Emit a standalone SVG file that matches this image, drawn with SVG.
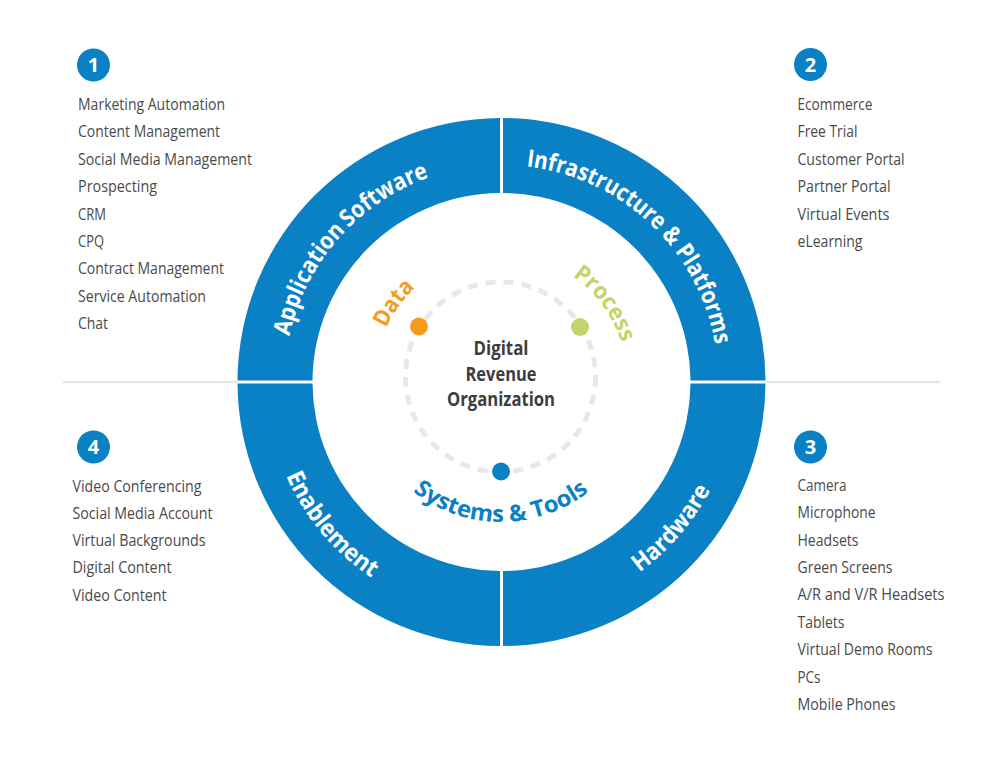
<svg xmlns="http://www.w3.org/2000/svg" width="1000" height="764" viewBox="0 0 1000 764">
<style>
.item{font-family:"Open Sans","Noto Sans",sans-serif;font-size:15.5px;fill:#4a4a4a}
.num{font-family:"Open Sans",sans-serif;font-size:20px;font-weight:700;fill:#fff;text-anchor:middle}
.badge{fill:#0a80c5}
.seg{fill:#0a80c5}
.ring{font-family:"Open Sans",sans-serif;font-size:24px;font-weight:700;fill:#fff;text-anchor:middle}
.ringS{font-family:"Open Sans",sans-serif;font-size:24px;font-weight:700;fill:#fff}
.inner{font-family:"Open Sans",sans-serif;font-size:23px;font-weight:700;text-anchor:middle}
.center{font-family:"Open Sans",sans-serif;font-size:19px;font-weight:700;fill:#3d3d3d;text-anchor:middle}
</style>
<defs>
<path id="ringTop" d="M 284.5,382 A 217 217 0 0 1 718.5,382"/>
<path id="ringBot" d="M 266.5,382 A 235 235 0 0 0 736.5,382"/>
<path id="innerTop" d="M 375,380 A 126 126 0 0 1 627,380"/>
<path id="innerBot" d="M 359,380 A 142 142 0 0 0 643,380"/>
</defs>
<rect width="1000" height="764" fill="#fff"/>
<g id="axis">
<line x1="63" y1="382" x2="238" y2="382" stroke="#e6e6e6" stroke-width="2.5"/>
<line x1="765" y1="382" x2="940" y2="382" stroke="#e6e6e6" stroke-width="2.5"/>
</g>
<g id="connectors">
<circle cx="500.5" cy="377" r="95" fill="none" stroke="#e8e8e8" stroke-width="5" stroke-dasharray="10 8"/>
</g>
<g id="q1-application-software">
<path class="seg" d="M 237.5,380.5 A 264 264 0 0 1 500,118 L 500,193 A 189 189 0 0 0 312.5,380.5 Z"/>
<text class="ringS"><textPath href="#ringTop" startOffset="46" textLength="121" lengthAdjust="spacingAndGlyphs">Application</textPath></text>
<text class="ringS"><textPath href="#ringTop" startOffset="171" textLength="96" lengthAdjust="spacingAndGlyphs">Software</textPath></text>
</g>
<g id="q2-infrastructure">
<path class="seg" d="M 503,118 A 264 264 0 0 1 765.5,380.5 L 690.5,380.5 A 189 189 0 0 0 503,193 Z"/>
<text class="ringS"><textPath href="#ringTop" startOffset="365.5" textLength="170" lengthAdjust="spacingAndGlyphs">Infrastructure &amp;</textPath></text>
<text class="ringS"><textPath href="#ringTop" startOffset="541" textLength="103" lengthAdjust="spacingAndGlyphs">Platforms</textPath></text>
</g>
<g id="q3-hardware">
<path class="seg" d="M 765.5,383.5 A 264 264 0 0 1 503,646 L 503,571 A 189 189 0 0 0 690.5,383.5 Z"/>
<text class="ring"><textPath href="#ringBot" startOffset="77.4%" textLength="110" lengthAdjust="spacingAndGlyphs">Hardware</textPath></text>
</g>
<g id="q4-enablement">
<path class="seg" d="M 500,646 A 264 264 0 0 1 237.5,383.5 L 312.5,383.5 A 189 189 0 0 0 500,571 Z"/>
<text class="ring"><textPath href="#ringBot" startOffset="22.2%" textLength="135" lengthAdjust="spacingAndGlyphs">Enablement</textPath></text>
</g>
<g id="center">
<text class="center" x="501" y="355" textLength="55" lengthAdjust="spacingAndGlyphs">Digital</text>
<text class="center" x="501" y="380.5" textLength="71" lengthAdjust="spacingAndGlyphs">Revenue</text>
<text class="center" x="501" y="406" textLength="108" lengthAdjust="spacingAndGlyphs">Organization</text>
</g>
<g id="data">
<circle cx="419" cy="326.5" r="9" fill="#f39c1f"/>
<text class="inner" fill="#f39c1f"><textPath href="#innerTop" startOffset="19.8%" textLength="50" lengthAdjust="spacingAndGlyphs">Data</textPath></text>
</g>
<g id="process">
<circle cx="580" cy="327" r="9" fill="#c5d46a"/>
<text class="inner" fill="#c5d46a"><textPath href="#innerTop" startOffset="79.8%" textLength="84" lengthAdjust="spacingAndGlyphs">Process</textPath></text>
</g>
<g id="systems-tools">
<circle cx="501" cy="471.5" r="9" fill="#0a80c5"/>
<text class="inner" fill="#0a80c5"><textPath href="#innerBot" startOffset="50%" textLength="190" lengthAdjust="spacingAndGlyphs">Systems &amp; Tools</textPath></text>
</g>
<g id="list1">
<circle class="badge" cx="93.5" cy="65" r="16.5"/>
<text class="num" x="93.5" y="72">1</text>
<text class="item" x="78" y="110" textLength="147" lengthAdjust="spacingAndGlyphs">Marketing Automation</text>
<text class="item" x="78" y="137.4" textLength="142" lengthAdjust="spacingAndGlyphs">Content Management</text>
<text class="item" x="78" y="164.8" textLength="174" lengthAdjust="spacingAndGlyphs">Social Media Management</text>
<text class="item" x="78" y="192.2" textLength="79" lengthAdjust="spacingAndGlyphs">Prospecting</text>
<text class="item" x="78" y="219.6" textLength="28" lengthAdjust="spacingAndGlyphs">CRM</text>
<text class="item" x="78" y="247" textLength="26" lengthAdjust="spacingAndGlyphs">CPQ</text>
<text class="item" x="78" y="274.4" textLength="146" lengthAdjust="spacingAndGlyphs">Contract Management</text>
<text class="item" x="78" y="301.8" textLength="128" lengthAdjust="spacingAndGlyphs">Service Automation</text>
<text class="item" x="78" y="329.2" textLength="30" lengthAdjust="spacingAndGlyphs">Chat</text>
</g>
<g id="list2">
<circle class="badge" cx="810.5" cy="64.5" r="16.5"/>
<text class="num" x="810.5" y="71.5">2</text>
<text class="item" x="797.5" y="110" textLength="75" lengthAdjust="spacingAndGlyphs">Ecommerce</text>
<text class="item" x="797.5" y="137.4" textLength="60" lengthAdjust="spacingAndGlyphs">Free Trial</text>
<text class="item" x="797.5" y="164.8" textLength="107" lengthAdjust="spacingAndGlyphs">Customer Portal</text>
<text class="item" x="797.5" y="192.2" textLength="93" lengthAdjust="spacingAndGlyphs">Partner Portal</text>
<text class="item" x="797.5" y="219.6" textLength="92" lengthAdjust="spacingAndGlyphs">Virtual Events</text>
<text class="item" x="797.5" y="247" textLength="65" lengthAdjust="spacingAndGlyphs">eLearning</text>
</g>
<g id="list3">
<circle class="badge" cx="810.5" cy="447" r="16.5"/>
<text class="num" x="810.5" y="454">3</text>
<text class="item" x="797.5" y="490.8" textLength="49" lengthAdjust="spacingAndGlyphs">Camera</text>
<text class="item" x="797.5" y="518.2" textLength="78" lengthAdjust="spacingAndGlyphs">Microphone</text>
<text class="item" x="797.5" y="545.6" textLength="61" lengthAdjust="spacingAndGlyphs">Headsets</text>
<text class="item" x="797.5" y="573" textLength="95" lengthAdjust="spacingAndGlyphs">Green Screens</text>
<text class="item" x="797.5" y="600.4" textLength="147" lengthAdjust="spacingAndGlyphs">A/R and V/R Headsets</text>
<text class="item" x="797.5" y="627.8" textLength="47" lengthAdjust="spacingAndGlyphs">Tablets</text>
<text class="item" x="797.5" y="655.2" textLength="135" lengthAdjust="spacingAndGlyphs">Virtual Demo Rooms</text>
<text class="item" x="797.5" y="682.6" textLength="23" lengthAdjust="spacingAndGlyphs">PCs</text>
<text class="item" x="797.5" y="710" textLength="98" lengthAdjust="spacingAndGlyphs">Mobile Phones</text>
</g>
<g id="list4">
<circle class="badge" cx="93.5" cy="447" r="16.5"/>
<text class="num" x="93.5" y="454">4</text>
<text class="item" x="72.5" y="491.5" textLength="129" lengthAdjust="spacingAndGlyphs">Video Conferencing</text>
<text class="item" x="72.5" y="518.8" textLength="140" lengthAdjust="spacingAndGlyphs">Social Media Account</text>
<text class="item" x="72.5" y="546.1" textLength="133" lengthAdjust="spacingAndGlyphs">Virtual Backgrounds</text>
<text class="item" x="72.5" y="573.4" textLength="99" lengthAdjust="spacingAndGlyphs">Digital Content</text>
<text class="item" x="72.5" y="600.7" textLength="94" lengthAdjust="spacingAndGlyphs">Video Content</text>
</g>
</svg>
